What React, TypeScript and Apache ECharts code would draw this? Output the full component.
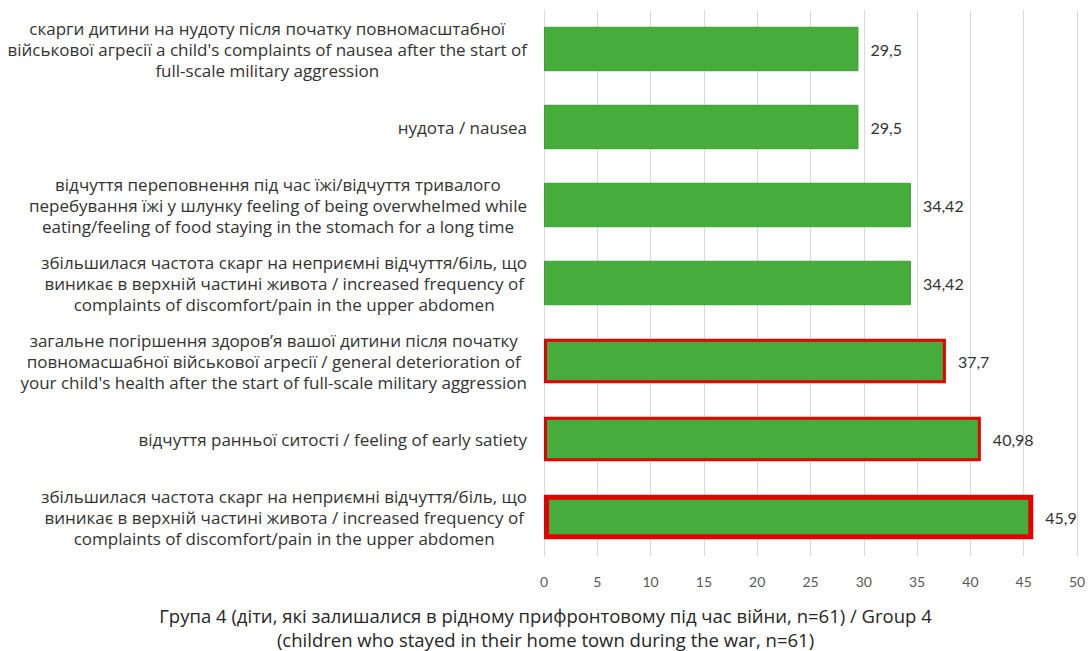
import React, { useEffect, useRef } from "react";
import * as echarts from "echarts";

const categories: string[] = [
  "скарги дитини на нудоту після початку повномасштабної\nвійськової агресії a child's complaints of nausea after the start of\nfull-scale military aggression",
  "нудота / nausea",
  "відчуття переповнення під час їжі/відчуття тривалого\nперебування їжі у шлунку feeling of being overwhelmed while\neating/feeling of food staying in the stomach for a long time",
  "збільшилася частота скарг на неприємні відчуття/біль, що\nвиникає в верхній частині живота / increased frequency of\ncomplaints of discomfort/pain in the upper abdomen",
  "загальне погіршення здоров’я вашої дитини після початку\nповномасшабної військової агресії / general deterioration of\nyour child's health after the start of full-scale military aggression",
  "відчуття ранньої ситості / feeling of early satiety",
  "збільшилася частота скарг на неприємні відчуття/біль, що\nвиникає в верхній частині живота / increased frequency of\ncomplaints of discomfort/pain in the upper abdomen",
];

const values: number[] = [29.5, 29.5, 34.42, 34.42, 37.7, 40.98, 45.9];
// red outline width per bar (0 = none)
const highlight: number[] = [0, 0, 0, 0, 3, 3, 5];

const xTicks = { min: 0, max: 50, interval: 5 };

const titleText =
  "Група 4 (діти, які залишалися в рідному прифронтовому під час війни, n=61) / Group 4\n(children who stayed in their home town during the war, n=61)";

const FONT = "Lato";
const LABEL_FONT = "Open Sans";

export default function App() {
  const ref = useRef<HTMLDivElement>(null);

  useEffect(() => {
    if (!ref.current) return;
    const chart = echarts.init(ref.current, undefined, { renderer: "svg" });
    const keys = categories.map((_, i) => "c" + i);
    chart.setOption({
      animation: false,
      backgroundColor: "#ffffff",
      textStyle: { fontFamily: FONT },
      title: {
        text: titleText,
        left: "center",
        top: 598,
        textStyle: {
          fontFamily: LABEL_FONT,
          fontSize: 18.5,
          fontWeight: "normal",
          color: "#262626",
          lineHeight: 24,
        },
      },
      grid: { left: 544, right: 14, top: 10, bottom: 95, containLabel: false },
      xAxis: {
        type: "value",
        min: xTicks.min,
        max: xTicks.max,
        interval: xTicks.interval,
        axisLine: { show: false },
        axisTick: { show: false },
        splitLine: { show: true, lineStyle: { color: "#d9d9d9", width: 1 } },
        axisLabel: { color: "#595959", fontSize: 14, margin: 18, fontFamily: FONT },
      },
      yAxis: {
        type: "category",
        inverse: true,
        data: keys,
        axisTick: { show: false },
        axisLine: { show: true, lineStyle: { color: "#d9d9d9" } },
        axisLabel: {
          margin: 17,
          align: "right",
          fontSize: 17,
          color: "#333333",
          fontFamily: LABEL_FONT,
          formatter: (_v: string, idx: number) =>
            categories[idx]
              .split("\n")
              .map((l) => "{c|" + l + "}")
              .join("\n"),
          rich: {
            c: {
              align: "center",
              fontSize: 17,
              lineHeight: 21,
              color: "#333333",
              fontFamily: LABEL_FONT,
            },
          },
        },
      },
      series: [
        {
          type: "bar",
          barWidth: "57%",
          data: values.map((v, i) => ({
            value: v,
            itemStyle:
              highlight[i] > 0
                ? { color: "#46ad3c", borderColor: "#e30000", borderWidth: highlight[i] }
                : { color: "#46ad3c", borderColor: "#3c9f34", borderWidth: 1 },
          })),
          label: {
            show: true,
            position: "right",
            distance: 12,
            fontSize: 16,
            color: "#333333",
            fontFamily: FONT,
            formatter: (p: any) => String(p.value).replace(".", ","),
          },
        },
      ],
    });
    return () => chart.dispose();
  }, []);

  return (
    <div
      ref={ref}
      style={{ position: "fixed", left: 0, top: 0, width: 1091, height: 651 }}
    />
  );
}
